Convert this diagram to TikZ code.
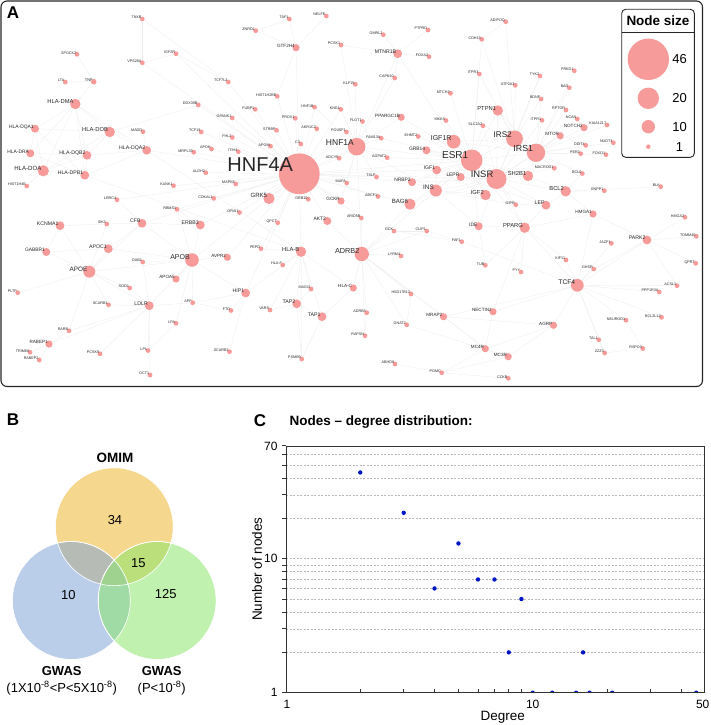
\documentclass[tikz,border=0pt]{standalone}
\usepackage{fontspec}
\setmainfont{Liberation Sans}
\usetikzlibrary{backgrounds}
\definecolor{nodepink}{RGB}{246,154,154}
\definecolor{linkgray}{RGB}{236,236,236}
\definecolor{omimc}{RGB}{240,195,80}
\definecolor{gwasb}{RGB}{130,165,215}
\definecolor{gwasg}{RGB}{140,230,110}
\definecolor{dotblue}{RGB}{0,20,200}
\tikzset{
  gene/.style={circle, fill=nodepink, inner sep=0pt},
  genelabel/.style={anchor=base east, inner sep=0pt, text=black!85},
  link/.style={draw=linkgray, line width=0.3pt},
  panel/.style={font=\fontsize{17}{17}\selectfont\bfseries},
  venn/.style={draw=white, line width=0.6pt},
  gridline/.style={gray!55, dash pattern=on 2pt off 1.5pt, line width=0.45pt},
}
\begin{document}
\begin{tikzpicture}[x=1pt,y=-1pt]
\useasboundingbox (0,0) rectangle (710,725);
% panel A: network
\draw[line width=1.1pt, black!85, rounded corners=6pt] (1,1) rectangle (702.5,386.5);
\node[panel] (lblA) at (13,12.3) {A};
\foreach \n/\x/\y/\d in {TNXB/142.3/19/1, SPOCK2/77/54.3/1, IGF2R/176/53.7/1, VPS26A/142.3/62.7/1,
  LTA/65.3/82/1, TNF/93.7/81.7/2, TCF7L2/228.3/82/1, HLA-DMA/75.3/104/8, DDX39B/198.3/105/1,
  GPANK1/232.3/118/1, HLA-DQA1/35/128.7/5, HLA-DOB/109.7/132/8, MADD/143/131.7/1, TCF19/201.3/132/1,
  FHL2/232.3/137.5/1, HLA-DRA/30.3/153.3/5, HLA-DQB2/87/155.3/6, HLA-DQA2/146.7/150.3/6,
  APOH/211.5/149/1, MRPL33/193.7/152.2/1, ITIH4/238.3/151.7/1, HLA-DOA/43.3/170.8/9,
  HLA-DPB1/84.8/175.2/6, ALDH2/205.8/172.7/1, HIST1H4E/26.7/186/1, KANK1/173.5/185.7/1,
  MAPK8/235.7/184/1, LRRC4/117/199.7/1, CDKAL1/213.7/198.3/1, RBMS1/177/209.3/1, ORAI1/239.5/212.5/1,
  KCNMA1/60/225.7/6, SIK3/106.7/224/1, CFB/142/223.3/6, ERBB3/200.3/225/6, GABBR1/46.3/252/5,
  APOC1/108.3/248.7/6, DAB2/142.7/262/1, APOB/192/260/12, AVPR2/227.3/257.3/4, APOE/89.3/271.7/10,
  APOA5/176/279/4, SOD2/129.7/288/1, PLTP/17.7/292.7/1, SCARB1/108.5/304.8/1, LDLR/149.3/305.7/6,
  APP/192.7/302.7/1, FTO/231/310.5/1, LPA/176/323.3/1, RARB/69/330.8/1, RABEP1/49/344/4,
  TRIM66/30/352.3/1, PCSK9/100/353.8/1, LPL/148/350.5/1, SCARB2/229.5/351.7/1, RABEP2/39.3/360/1,
  OCT1/150/375/1,
  TAF1/289.3/19/1, NELFE/326.3/16/1, ZNRD1/255.7/30.7/1, GTF2H4/296/47.7/4, OMRL2/383.3/34.7/1,
  PTPRD/428/30/1, PCSK1/341/45/1, MTNR1B/397.7/53.7/6, FOXA2/429/56.7/1, KLF15/355.3/84.3/1,
  CAPN10/394.7/78/1, MTCH2/450.5/93.3/1, HIST1H2BE/277.2/96.3/1, FUBP1/255.2/109.3/1,
  HNF1B/314.5/107.2/1, KNG1/340.8/109.3/1, PROX1/295.3/118.3/1, PPARGC1B/401.2/117.3/4,
  FLOT1/362.5/121.5/1, MKKS/446/120.5/1, STRBP/276.5/130.3/1, AKR1C2/316.8/128.8/1,
  POU5F1/346.5/132/1, FAM13A/381.2/138.2/1, EHMT2/418.2/136.5/1, IGF1R/453.7/141.7/12,
  APOM/270.5/146.2/1, C3/300.8/144/1, ADCY5/339.2/158.2/1, AGPAT2/387.2/157.7/1, GRB14/426.5/150.3/5,
  ESR1/471.7/160.3/22, HNF1A/356.7/146.7/17, HNF4A/299.3/173.8/46, IGF1/436.7/170/6,
  LEPR/460.7/177/5, TSLP/376.5/177/1, NRBP2/412/182.2/5, MAFA/346.7/183/1, INS/435.8/190.5/10,
  GRK5/269/198.5/9, GRB10/308.3/199.2/1, GCKR/341/201/4, ABCF1/378/196.5/1, BAG6/410/204.2/9,
  QPCT/277.7/222.7/1, AKT2/327.3/221/5, ARID5B/361.3/218/1, GCK/394/231/1, CLIP1/426.7/231/1,
  FAF1/461.7/241.7/1, PEPD/261/248.7/1, HLA-B/301/251.7/8, ADRB2/361.7/254/13, LYRM4/401/256/1,
  HLA-F/282.7/265/1, MAGI3/311/289/1, HLA-C/353.3/288/4, HSD17B12/411/294/1, HIP1/245.7/293/6,
  TAP2/296.7/303.8/6, VARS/270/310/1, TAP1/322/316.7/6, ADRB3/366.7/312.7/1, MRAP2/443.5/316.7/4,
  GNAT2/406.7/324.8/1, RAPSN/365/335.7/1, PSMB9/301.7/359/1, ABHD8/395/364/1, POMC/441.7/372.7/1,
  CCKB/508.3/378.3/1,
  ADIPOQ/505.7/21.7/1, CDH13/481.7/39.3/1, ITPR3/479.3/74/1, TYK2/540/76/1, PRKD1/574.3/70.7/1,
  ATP2A3/515.3/85.3/1, BAD/569.3/87.7/1, BDNF/541/99/1, PTPN1/497.8/110.5/8, RPTOR/566/110/1,
  ITPR1/542/120.3/1, NCAN/577.3/119/1, KIAA1217/607/125/1, NOTCH2/584/127.7/4, SLC2A2/483/125.7/1,
  MTOR/560.2/135.8/4, IRS2/514.5/138.8/16, IRS1/536/152.8/18, DDIT4/585.7/145.3/1, NUDT3/613.3/142.7/1,
  PER2/580.7/153.7/1, FOXO1/606/154.7/1, MACROD1/554.3/168.2/1, SH2B1/528/176/8, BCL6/582.3/173.5/1,
  INSR/496.5/179/20, ENPP1/604.3/190.7/1, BLK/660.7/186.7/1, IGF2/485.5/195/8, BCL2/565.7/191.3/8,
  GIPR/515.7/204.7/1, LEP/546/205.2/6, HMGA1/593/214/4, HMGA2/685/217.3/1, IDE/478.7/226.3/5,
  PPARG/524.7/227.7/8, JAZF1/611.3/243.3/1, PARK2/647/240/6, TOMM40/696.3/236.3/1, KIF11/566/260/1,
  GHSR/593.7/269/1, TUB/485.3/265.3/1, PYY/521/272/1, QPRT/695.7/263.3/1, TCF4/577.3/285.3/11,
  ACSL1/677/285.7/1, PPP1R3A/659.2/292/1, NECTIN2/493/311.7/4, NEUROD1/626/320.2/1,
  BCL2L12/661.5/317.3/1, AGRP/553.5/325.3/4, TAL1/598.7/339.7/1, MC4R/485.3/348.7/4,
  MC3R/508.2/356.7/4, ZZZ3/604.7/353/1, RSPO3/642.8/348.5/1}{
  \pgfmathsetmacro\dm{4+0.8*\d}
  \pgfmathsetmacro\fs{\d>40 ? 20 : 3.4+0.3*\d}
  \pgfmathsetmacro\dx{-0.15*\dm}
  \pgfmathsetmacro\dy{0.075*\dm-0.3}
  \node[gene, minimum size=\dm pt] (\n) at (\x,\y) {};
  \node[genelabel, font=\fontsize{\fs}{\fs}\selectfont] (lab\n) at ([xshift=\dx pt, yshift=\dy pt]\n.center) {\n};
}
\begin{pgfonlayer}{background}
\foreach \a/\b in {HLA-DMA/HLA-DQA1, HLA-DMA/HLA-DOB, HLA-DMA/HLA-DRA, HLA-DMA/HLA-DOA, HLA-DMA/HLA-DQB2,
  HLA-DMA/HLA-DPB1, HLA-DMA/HLA-DQA2, HLA-DQA1/HLA-DRA, HLA-DQA1/HLA-DOA, HLA-DQA1/HLA-DOB,
  HLA-DQA1/HLA-DPB1, HLA-DRA/HLA-DOA, HLA-DRA/HLA-DQB2, HLA-DRA/HLA-DPB1, HLA-DOA/HLA-DQB2,
  HLA-DOA/HLA-DPB1, HLA-DOA/HLA-DOB, HLA-DOB/HLA-DQA2, HLA-DOB/HLA-DQB2, HLA-DQB2/HLA-DPB1,
  HLA-DQA2/HLA-DQB2, HLA-DQA2/HLA-DPB1, HLA-DOA/HIST1H4E, TNF/LTA, TNF/HLA-DMA, SPOCK2/TNF,
  HLA-DQA2/MADD, HLA-DQA2/HNF4A, HLA-DQA2/HLA-B, HLA-DPB1/HLA-B, DDX39B/HLA-DOB,
  HNF4A/TCF7L2, HNF4A/GPANK1, HNF4A/DDX39B, HNF4A/TCF19, HNF4A/FHL2, HNF4A/APOH, HNF4A/MRPL33,
  HNF4A/ITIH4, HNF4A/ALDH2, HNF4A/KANK1, HNF4A/MAPK8, HNF4A/CDKAL1, HNF4A/RBMS1, HNF4A/HIST1H2BE,
  HNF4A/FUBP1, HNF4A/HNF1B, HNF4A/PROX1, HNF4A/STRBP, HNF4A/AKR1C2, HNF4A/APOM, HNF4A/C3,
  HNF4A/HNF1A, HNF4A/ADCY5, HNF4A/MAFA, HNF4A/GRK5, HNF4A/GRB10, HNF4A/GCKR, HNF4A/QPCT,
  HNF4A/ORAI1, HNF4A/AKT2, HNF4A/HLA-B, HNF4A/GTF2H4, HNF4A/KNG1, HNF4A/POU5F1, HNF4A/ESR1,
  HNF4A/INSR, HNF4A/IGF1, HNF4A/TSLP, HNF4A/NRBP2, HNF4A/ABCF1, HNF4A/BAG6, HNF4A/ARID5B,
  HNF4A/PEPD, HNF4A/ERBB3, HNF4A/APOB, HNF4A/AVPR2, HNF4A/HIP1, HNF4A/LRRC4, HNF4A/CFB,
  HNF4A/IGF2R, HNF4A/VPS26A, TCF7L2/IGF2R, IGF2R/VPS26A, VPS26A/TNXB, TNXB/TCF7L2,
  GTF2H4/ZNRD1, GTF2H4/TAF1, GTF2H4/NELFE, TAF1/ZNRD1, GTF2H4/HIST1H2BE,
  HNF1A/HNF1B, HNF1A/KLF15, HNF1A/CAPN10, HNF1A/FAM13A, HNF1A/POU5F1, HNF1A/KNG1, HNF1A/PCSK1,
  HNF1A/FLOT1, HNF1A/ADCY5, HNF1A/MAFA, HNF1A/TSLP, HNF1A/MTNR1B, HNF1A/PPARGC1B, HNF1A/ESR1,
  HNF1A/GCKR, HNF1A/AGPAT2, HNF1A/ADRB2, HNF1A/INS,
  MTNR1B/FOXA2, MTNR1B/PTPRD, MTNR1B/OMRL2, MTNR1B/CAPN10, MTNR1B/PCSK1, MTNR1B/IGF1R,
  ESR1/IGF1R, ESR1/GRB14, ESR1/IGF1, ESR1/LEPR, ESR1/INSR, ESR1/IRS1, ESR1/IRS2, ESR1/PTPN1,
  ESR1/SLC2A2, ESR1/EHMT2, ESR1/FAM13A, ESR1/PPARGC1B, ESR1/MTCH2, ESR1/MKKS, ESR1/INS, ESR1/IGF2,
  ESR1/SH2B1, ESR1/BAG6, ESR1/NRBP2, ESR1/ADRB2, ESR1/PPARG, ESR1/IDE, ESR1/AGPAT2, ESR1/CDH13,
  ESR1/ITPR3, INSR/IRS1, INSR/IRS2, INSR/INS, INSR/IGF2, INSR/IGF1, INSR/IGF1R, INSR/PTPN1,
  INSR/SH2B1, INSR/GRB14, INSR/LEP, INSR/LEPR, INSR/BCL2, INSR/MACROD1, INSR/GIPR, INSR/IDE,
  INSR/PPARG, INSR/SLC2A2, INSR/MTOR, INSR/TYK2, INSR/ITPR1, INSR/NRBP2, INSR/BAG6,
  IRS1/IRS2, IRS1/PTPN1, IRS1/MTOR, IRS1/RPTOR, IRS1/NOTCH2, IRS1/DDIT4, IRS1/FOXO1, IRS1/PER2,
  IRS1/NUDT3, IRS1/SH2B1, IRS1/BCL6, IRS1/ITPR1, IRS1/NCAN, IRS1/BDNF, IRS1/KIAA1217, IRS1/BAD,
  IRS1/PRKD1, IRS1/IGF1R, IRS1/MACROD1, IRS2/PTPN1, IRS2/ATP2A3, IRS2/TYK2, IRS2/ITPR3,
  IRS2/CDH13, IRS2/ADIPOQ, IRS2/BDNF, IRS2/IGF1R, IRS2/SLC2A2, ADIPOQ/CDH13, MTOR/RPTOR,
  NOTCH2/NCAN, DDIT4/MTOR, BCL2/BCL6, BCL2/ENPP1, BCL2/BLK, BCL2/HMGA1, BCL2/LEP, BCL2/SH2B1,
  PPARG/IDE, PPARG/LEP, PPARG/HMGA1, PPARG/TUB, PPARG/PYY, PPARG/NECTIN2, PPARG/KIF11, PPARG/TCF4,
  IGF1R/IGF1, IGF1R/IGF2, IGF1/IGF2, INS/IGF2, INS/IDE, INS/GIPR, GIPR/LEP, LEP/LEPR, INS/IGF1,
  INS/NRBP2, INS/BAG6, TCF4/GHSR, TCF4/PARK2, TCF4/PPP1R3A, TCF4/ACSL1, TCF4/NEUROD1,
  TCF4/BCL2L12, TCF4/TAL1, TCF4/ZZZ3, TCF4/AGRP, TCF4/NECTIN2, TCF4/KIF11, TCF4/HMGA1, TCF4/JAZF1,
  TCF4/FAF1, TCF4/MRAP2, PARK2/TOMM40, PARK2/HMGA2, PARK2/QPRT, PARK2/ACSL1, PARK2/GHSR,
  PARK2/HMGA1, AGRP/MC4R, AGRP/MC3R, AGRP/MRAP2, MC4R/MC3R, MC4R/POMC, MC3R/POMC, POMC/CCKB,
  MC4R/NECTIN2, POMC/ABHD8, MRAP2/MC4R, ZZZ3/RSPO3, TAL1/ZZZ3, NEUROD1/RSPO3, GNAT2/MC3R,
  ADRB2/HLA-C, ADRB2/LYRM4, ADRB2/GCK, ADRB2/ARID5B, ADRB2/ADRB3, ADRB2/RAPSN, ADRB2/GNAT2,
  ADRB2/MRAP2, ADRB2/HSD17B12, ADRB2/AKT2, ADRB2/BAG6, ADRB2/CLIP1, ADRB2/MC4R, ADRB3/RAPSN,
  HSD17B12/GNAT2, HLA-B/HLA-F, HLA-B/TAP2, HLA-B/TAP1, HLA-B/HLA-C, HLA-B/MAGI3, HLA-B/PSMB9,
  HLA-B/VARS, HLA-B/HIP1, HLA-B/PEPD, TAP1/TAP2, TAP1/PSMB9, TAP2/PSMB9, TAP2/VARS, HLA-C/TAP1,
  MAGI3/TAP2, APOE/APOC1, APOE/GABBR1, APOE/KCNMA1, APOE/PLTP, APOE/SCARB1, APOE/LDLR, APOE/APOB,
  APOE/SOD2, APOE/SIK3, APOE/CFB, APOE/RARB, APOB/APOA5, APOB/LDLR, APOB/DAB2, APOB/ERBB3,
  APOB/AVPR2, APOB/APOC1, APOB/CFB, APOB/LPA, APOB/APP, APOB/HIP1, APOB/RBMS1, LDLR/LPL,
  LDLR/PCSK9, LDLR/APP, LDLR/SCARB1, LDLR/RABEP1, LDLR/RARB, LDLR/DAB2, LDLR/SOD2, LDLR/OCT1,
  RABEP1/RARB, RABEP1/TRIM66, RABEP1/RABEP2, TRIM66/RABEP2, KCNMA1/GABBR1, KCNMA1/SIK3, SIK3/CFB,
  CFB/ERBB3, ERBB3/RBMS1, LRRC4/CFB, APOC1/GABBR1, APOC1/CFB, HIP1/FTO, HIP1/SCARB2, HIP1/APP,
  FTO/APP, GCK/CLIP1, GCK/FAF1, TUB/IDE, CLIP1/FAF1, LPA/LPL}
  \draw[link] (\a) -- (\b);
\end{pgfonlayer}
% legend
\draw[line width=0.9pt, black!85, rounded corners=4pt] (621.7,9.3) rectangle (694.3,157.3);
\draw[line width=0.9pt, black!85] (621.7,32.3) -- (694.3,32.3);
\node[font=\fontsize{13.5}{13.5}\selectfont\bfseries] (legtitle) at (658,20.7) {Node size};
\foreach \s/\yy/\rr in {46/59.3/20.7, 20/98.3/10.7, 10/126.7/6.7, 1/146.7/2.3}{
  \node[gene, minimum size=2*\rr pt] (leg\s) at (648.3,\yy) {};
  \node[font=\fontsize{13}{13}\selectfont] (legnum\s) at (679.5,\yy) {\s};
}
% panel B: Venn
\node[panel] (lblB) at (13,420) {B};
\fill[venn, fill=omimc, fill opacity=0.65] (114.3,526.7) circle (59);
\fill[venn, fill=gwasb, fill opacity=0.55] (71.3,600.5) circle (59);
\fill[venn, fill=gwasg, fill opacity=0.55] (157.2,600.5) circle (59);
\draw[white, line width=0.6pt] (114.3,526.7) circle (59) (71.3,600.5) circle (59) (157.2,600.5) circle (59);
\node[font=\fontsize{13.5}{13.5}\selectfont\bfseries] (omim) at (115,458.3) {OMIM};
\node[font=\fontsize{13}{13}\selectfont] (n34) at (115,520) {34};
\node[font=\fontsize{13}{13}\selectfont] (n15) at (138.3,562.7) {15};
\node[font=\fontsize{13}{13}\selectfont] (n10) at (68.3,595.3) {10};
\node[font=\fontsize{13}{13}\selectfont] (n125) at (165.7,594) {125};
\node[font=\fontsize{13}{13}\selectfont\bfseries] (gwasa) at (61.7,671) {GWAS};
\node[font=\fontsize{13}{13}\selectfont] (gwasap) at (61.7,688.3) {(1X10\textsuperscript{-8}<P<5X10\textsuperscript{-8})};
\node[font=\fontsize{13}{13}\selectfont\bfseries] (gwasb) at (161.7,671) {GWAS};
\node[font=\fontsize{13}{13}\selectfont] (gwasbp) at (161.7,688.3) {(P<10\textsuperscript{-8})};
% panel C: degree distribution
\node[panel] (lblC) at (260,421) {C};
\node[font=\fontsize{13.5}{13.5}\selectfont\bfseries, anchor=west] (ctitle) at (286,422) {Nodes – degree distribution:};
\foreach \v in {2,3,4,5,6,7,8,9,10,20,30,40,50,60}
  \draw[gridline] (286,{692.7-134*log10(\v)}) -- (704,{692.7-134*log10(\v)});
\foreach \v in {1,2,3,4,5,6,7,8,9,10,20,30,40,50,60,70}
  \draw[black!80, line width=0.6pt] (286,{692.7-134*log10(\v)}) -- (282,{692.7-134*log10(\v)});
\foreach \v in {2,3,4,5,6,7,8,9,20,30,40}
  \draw[black!80, line width=0.6pt] ({286+246.7*log10(\v)},692.7) -- ({286+246.7*log10(\v)},689.2);
\begin{scope}
\clip (286,446) rectangle (704,692.7);
\foreach \d/\c in {1/70, 2/44, 3/22, 4/6, 5/13, 6/7, 7/7, 8/2, 9/5, 10/1, 12/1, 15/1, 16/2, 17/1, 21/1, 46/1}
  \fill[dotblue] ({286+246.7*log10(\d)},{692.7-134*log10(\c)}) circle (2.2);
\end{scope}
\draw[black!80, line width=0.9pt] (286,446) rectangle (704,692.7);
\foreach \v/\yy in {70/446, 10/558.7, 1/692.7}
  \node[font=\fontsize{12}{12}\selectfont, anchor=east] (ylab\v) at (281,\yy) {\v};
\foreach \v/\xx in {1/287, 10/532.7, 50/702.7}
  \node[font=\fontsize{12}{12}\selectfont] (xlab\v) at (\xx,704) {\v};
\node[font=\fontsize{13.5}{13.5}\selectfont] (xname) at (502.7,717.3) {Degree};
\node[font=\fontsize{13.5}{13.5}\selectfont, rotate=90] (yname) at (257,569) {Number of nodes};
\end{tikzpicture}
\end{document}
